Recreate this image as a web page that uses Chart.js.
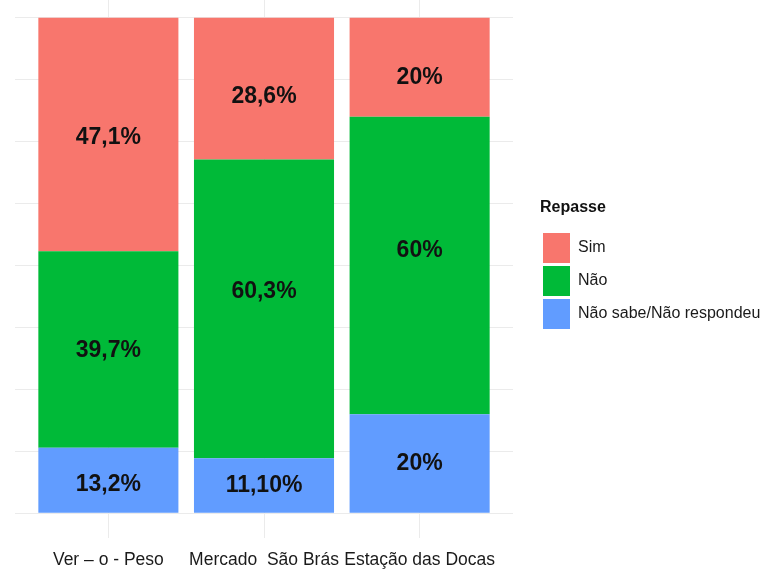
<!DOCTYPE html>
<html><head><meta charset="utf-8">
<script src="https://cdn.jsdelivr.net/npm/chart.js@4.4.1/dist/chart.umd.min.js"></script>
<style>
html,body{margin:0;padding:0;background:#fff;overflow:hidden;width:770px;height:570px;}
#c{position:absolute;left:0;top:-10px;}
</style></head><body>
<canvas id="c" width="770" height="580"></canvas>
<script>
const categories = ['Ver \u2013 o - Peso', 'Mercado  S\u00e3o Br\u00e1s', 'Esta\u00e7\u00e3o das Docas'];
const seriesNames = ['Sim', 'N\u00e3o', 'N\u00e3o sabe/N\u00e3o respondeu'];
const simValues = [47.1, 28.6, 20];
const naoValues = [39.7, 60.3, 60];
const nsValues = [13.2, 11.1, 20];
const simLabels = ['47,1%', '28,6%', '20%'];
const naoLabels = ['39,7%', '60,3%', '60%'];
const nsLabels = ['13,2%', '11,10%', '20%'];
const yGridValues = [0, 12.5, 25, 37.5, 50, 62.5, 75, 87.5, 100];
const legendTitle = 'Repasse';

// ---- styling ----
const FONT = '"Liberation Sans", Arial, Helvetica, sans-serif';
const COLORS = {sim: '#F8766D', nao: '#00BA38', ns: '#619CFF'};
// small vertical nudges (px) of the value labels, as placed in the original figure
const LABEL_NUDGE = {sim: [3, 8, 10], nao: [1, -17, -15], ns: [4, 0, 0]};

const toPoints = vals => vals.map((v, i) => ({x: i, y: v}));

const segLabelPlugin = {
  id: 'segLabels',
  afterDatasetsDraw(chart) {
    const ctx = chart.ctx;
    ctx.save();
    ctx.font = 'bold 23px ' + FONT;
    ctx.fillStyle = '#111';
    ctx.textAlign = 'center';
    ctx.textBaseline = 'middle';
    chart.data.datasets.forEach((ds, di) => {
      const meta = chart.getDatasetMeta(di);
      const nudge = LABEL_NUDGE[ds.key] || [];
      meta.data.forEach((el, i) => {
        const p = el.getProps(['x', 'y', 'base'], true);
        ctx.fillText(ds.valueLabels[i], p.x, (p.y + p.base) / 2 + (nudge[i] || 0));
      });
    });
    ctx.restore();
  }
};

const legendPlace = {
  id: 'legendPlace',
  afterLayout(chart) {
    const lg = chart.legend;
    if (!lg) return;
    const w = lg.width, h = lg.height;
    lg.left = 540; lg.right = 540 + w;
    lg.top = 210; lg.bottom = 210 + h;
  }
};

const chart = new Chart(document.getElementById('c'), {
  type: 'bar',
  data: {
    datasets: [
      {key: 'ns', label: seriesNames[2], data: toPoints(nsValues), valueLabels: nsLabels, backgroundColor: COLORS.ns, borderWidth: 0},
      {key: 'nao', label: seriesNames[1], data: toPoints(naoValues), valueLabels: naoLabels, backgroundColor: COLORS.nao, borderWidth: 0},
      {key: 'sim', label: seriesNames[0], data: toPoints(simValues), valueLabels: simLabels, backgroundColor: COLORS.sim, borderWidth: 0}
    ]
  },
  options: {
    responsive: false,
    animation: false,
    barPercentage: 0.9,
    categoryPercentage: 1.0,
    layout: {padding: {top: 3, left: 15, right: 40, bottom: 0}},
    scales: {
      x: {
        type: 'linear',
        stacked: true,
        offset: false,
        min: -0.6,
        max: 2.6,
        afterBuildTicks: s => { s.ticks = categories.map((c, i) => ({value: i})); },
        afterFit: s => { s.height = 32; },
        grid: {color: '#EBEBEB', lineWidth: 1, drawTicks: false, offset: false},
        border: {display: false},
        ticks: {
          autoSkip: false, maxRotation: 0, padding: 12,
          color: '#1a1a1a', font: {family: FONT, size: 17.5},
          callback: (v, i) => categories[i]
        }
      },
      y: {
        type: 'linear',
        stacked: true,
        min: -5,
        max: 105,
        afterBuildTicks: s => { s.ticks = yGridValues.map(v => ({value: v})); },
        afterFit: s => { s.width = 0; },
        grid: {color: '#EBEBEB', lineWidth: 1, drawTicks: false},
        border: {display: false},
        ticks: {display: false}
      }
    },
    plugins: {
      tooltip: {enabled: false},
      legend: {
        position: 'right',
        align: 'start',
        reverse: true,
        maxWidth: 400,
        title: {display: true, text: legendTitle, position: 'start', color: '#111',
                font: {family: FONT, size: 16, weight: 'bold'}, padding: {top: 0, bottom: 10.8}},
        labels: {boxWidth: 27, boxHeight: 30, padding: 3, color: '#1a1a1a',
                 font: {family: FONT, size: 16}}
      }
    }
  },
  plugins: [segLabelPlugin, legendPlace]
});

const W = chart.legend.width;
chart.options.layout.padding.right = 770 - 513 - W;
chart.update('none');
</script>
</body></html>
